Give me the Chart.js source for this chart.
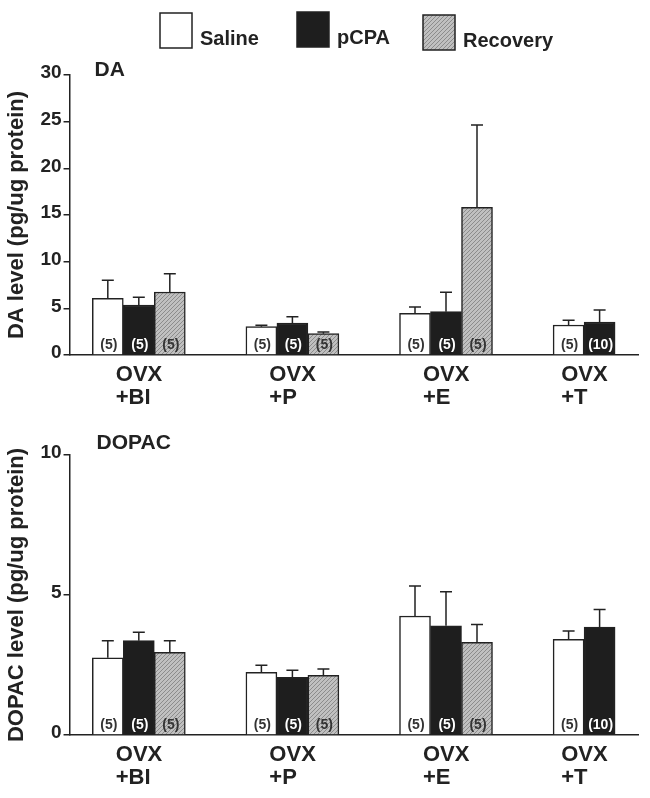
<!DOCTYPE html>
<html>
<head>
<meta charset="utf-8">
<script src="https://cdn.jsdelivr.net/npm/chart.js@4.4.1/dist/chart.umd.min.js"></script>
<style>
html, body { margin: 0; padding: 0; background: #fff; }
#top { position: absolute; left: 0; top: 0; width: 650px; height: 420px; }
#bottom { position: absolute; left: 0; top: 420px; width: 650px; height: 378px; }
</style>
</head>
<body>
<div id="top"><canvas id="daChart"></canvas></div>
<div id="bottom"><canvas id="dopacChart"></canvas></div>
<script>
// groups and series
const groups = [['OVX', '+BI'], ['OVX', '+P'], ['OVX', '+E'], ['OVX', '+T']];
const seriesNames = ['Saline', 'pCPA', 'Recovery'];

// DA (pg/ug protein), mean and SEM
const daSaline = [6.07, 3.04, 4.46, 3.21];
const daSalineErr = [1.93, 0.16, 0.68, 0.50];
const daPcpa = [5.36, 3.43, 4.64, 3.54];
const daPcpaErr = [0.84, 0.67, 2.07, 1.28];
const daRecovery = [6.75, 2.29, 15.82, null];
const daRecoveryErr = [1.95, 0.17, 8.82, null];

// DOPAC (pg/ug protein), mean and SEM
const dopacSaline = [2.76, 2.24, 4.25, 3.42];
const dopacSalineErr = [0.61, 0.25, 1.07, 0.29];
const dopacPcpa = [3.37, 2.06, 3.90, 3.85];
const dopacPcpaErr = [0.30, 0.25, 1.22, 0.63];
const dopacRecovery = [2.95, 2.13, 3.31, null];
const dopacRecoveryErr = [0.42, 0.23, 0.64, null];

// group sizes shown at the foot of each bar
const nSaline = ['(5)', '(5)', '(5)', '(5)'];
const nPcpa = ['(5)', '(5)', '(5)', '(10)'];
const nRecovery = ['(5)', '(5)', '(5)', null];

const daTicks = [0, 5, 10, 15, 20, 25, 30];
const dopacTicks = [0, 5, 10];

const FONT = '"Liberation Sans", Arial, Helvetica, sans-serif';
const INK = '#222';
Chart.defaults.font.family = FONT;
Chart.defaults.color = INK;

function hatch(canvasId) {
    const c = document.createElement('canvas');
    c.width = c.height = 4;
    const g = c.getContext('2d');
    g.fillStyle = '#c0c0c0';
    g.fillRect(0, 0, 4, 4);
    g.strokeStyle = '#8c8c8c';
    g.lineWidth = 1;
    g.beginPath();
    g.moveTo(0, 4); g.lineTo(4, 0);
    g.moveTo(-1, 1); g.lineTo(1, -1);
    g.moveTo(3, 5); g.lineTo(5, 3);
    g.stroke();
    return document.getElementById(canvasId).getContext('2d').createPattern(c, 'repeat');
}

// upward error bars with a cap
const errorBars = {
    id: 'errorBars',
    afterDatasetsDraw(chart) {
        const ctx = chart.ctx, y = chart.scales.y;
        ctx.save();
        ctx.strokeStyle = INK;
        ctx.lineWidth = 1.5;
        chart.data.datasets.forEach((ds, di) => {
            chart.getDatasetMeta(di).data.forEach((bar, i) => {
                const v = ds.data[i].y, e = ds.errors[i];
                if (v == null || e == null) return;
                const top = y.getPixelForValue(v + e);
                ctx.beginPath();
                ctx.moveTo(bar.x, bar.y);
                ctx.lineTo(bar.x, top);
                ctx.moveTo(bar.x - 6, top);
                ctx.lineTo(bar.x + 6, top);
                ctx.stroke();
            });
        });
        ctx.restore();
    }
};

// "(n)" labels inside the bars
const countLabels = {
    id: 'countLabels',
    afterDatasetsDraw(chart) {
        const ctx = chart.ctx, base = chart.scales.y.getPixelForValue(0);
        ctx.save();
        ctx.font = 'bold 14px ' + FONT;
        ctx.textAlign = 'center';
        ctx.textBaseline = 'middle';
        chart.data.datasets.forEach((ds, di) => {
            chart.getDatasetMeta(di).data.forEach((bar, i) => {
                if (!ds.counts[i]) return;
                ctx.fillStyle = ds.countColor;
                ctx.fillText(ds.counts[i], bar.x + 1, base - 10);
            });
        });
        ctx.restore();
    }
};

// "DA" / "DOPAC" panel name
const panelLabel = {
    id: 'panelLabel',
    afterDraw(chart, args, opts) {
        const ctx = chart.ctx, a = chart.chartArea;
        ctx.save();
        ctx.font = 'bold 21px ' + FONT;
        ctx.fillStyle = INK;
        ctx.textBaseline = 'alphabetic';
        ctx.fillText(opts.text, a.left + opts.dx, a.top + opts.dy);
        ctx.restore();
    }
};

// legend boxes across the top of the page
const legendSpots = [[160, 13], [297, 12], [423, 15]];
const legendBoxes = {
    id: 'legendBoxes',
    afterDraw(chart) {
        const ctx = chart.ctx;
        ctx.save();
        ctx.font = 'bold 20px ' + FONT;
        ctx.textBaseline = 'alphabetic';
        chart.data.datasets.forEach((ds, i) => {
            const [x, y] = legendSpots[i];
            ctx.fillStyle = ds.backgroundColor;
            ctx.fillRect(x, y, 32, 35);
            ctx.strokeStyle = INK;
            ctx.lineWidth = 1.5;
            ctx.strokeRect(x, y, 32, 35);
            ctx.fillStyle = INK;
            ctx.fillText(ds.label, x + 40, y + 32);
        });
        ctx.restore();
    }
};

// tick sits under the bars actually drawn in a group, shifted so the
// left-aligned label is centred there
function labelValue(i, series) {
    const shown = series.map((s, k) => (s[i] == null ? null : k - 1)).filter(k => k !== null);
    const mid = shown.reduce((a, b) => a + b, 0) / shown.length;
    return i + mid * 0.2 - 0.15;
}

function makeChart(id, cfg) {
    const fills = ['#ffffff', '#1e1e1e', hatch(id)];
    const counts = [nSaline, nPcpa, nRecovery];
    const countColors = ['#333', '#fff', '#333'];
    const datasets = cfg.series.map((s, k) => ({
        label: seriesNames[k],
        data: s.map((v, i) => ({ x: i, y: v })),
        errors: cfg.errors[k],
        counts: counts[k],
        countColor: countColors[k],
        backgroundColor: fills[k],
        borderColor: INK,
        borderWidth: 1.5,
        barThickness: 31
    }));

    return new Chart(document.getElementById(id), {
        type: 'bar',
        data: { datasets },
        options: {
            responsive: true,
            maintainAspectRatio: false,
            animation: false,
            layout: { padding: { top: cfg.padTop, left: 2, right: 12, bottom: 0 } },
            plugins: {
                legend: { display: false },
                tooltip: { enabled: false },
                panelLabel: cfg.panel
            },
            scales: {
                x: {
                    type: 'linear',
                    offset: false,
                    min: -0.451,
                    max: 3.25,
                    grid: { display: false, offset: false },
                    border: { color: INK, width: 1.5 },
                    afterBuildTicks: axis => {
                        axis.ticks = groups.map((g, i) => ({ value: labelValue(i, cfg.series) }));
                    },
                    afterFit: axis => { axis.height = cfg.xHeight; },
                    ticks: {
                        align: 'start',
                        autoSkip: false,
                        maxRotation: 0,
                        padding: 0,
                        color: INK,
                        font: { size: 22, weight: 'bold', lineHeight: 1.05 },
                        callback: (v, i) => groups[i]
                    }
                },
                y: {
                    min: 0,
                    max: cfg.ticks[cfg.ticks.length - 1],
                    afterBuildTicks: axis => {
                        axis.ticks = cfg.ticks.map(v => ({ value: v }));
                    },
                    grid: { drawOnChartArea: false, tickLength: 6, color: INK, lineWidth: 1.5 },
                    border: { color: INK, width: 1.5 },
                    ticks: {
                        padding: 2,
                        labelOffset: -2,
                        color: INK,
                        font: { size: 19, weight: 'bold' }
                    },
                    title: {
                        display: true,
                        text: cfg.yTitle,
                        color: INK,
                        padding: { top: 2, bottom: 8 },
                        font: { size: 22, weight: 'bold' }
                    }
                }
            }
        },
        plugins: cfg.extra.concat([errorBars, countLabels, panelLabel])
    });
}

makeChart('daChart', {
    series: [daSaline, daPcpa, daRecovery],
    errors: [daSalineErr, daPcpaErr, daRecoveryErr],
    ticks: daTicks,
    yTitle: 'DA level (pg/ug protein)',
    panel: { text: 'DA', dx: 25, dy: 1 },
    padTop: 75,
    xHeight: 65,
    extra: [legendBoxes]
});

makeChart('dopacChart', {
    series: [dopacSaline, dopacPcpa, dopacRecovery],
    errors: [dopacSalineErr, dopacPcpaErr, dopacRecoveryErr],
    ticks: dopacTicks,
    yTitle: 'DOPAC level (pg/ug protein)',
    panel: { text: 'DOPAC', dx: 27, dy: -6 },
    padTop: 35,
    xHeight: 63,
    extra: []
});
</script>
</body>
</html>
